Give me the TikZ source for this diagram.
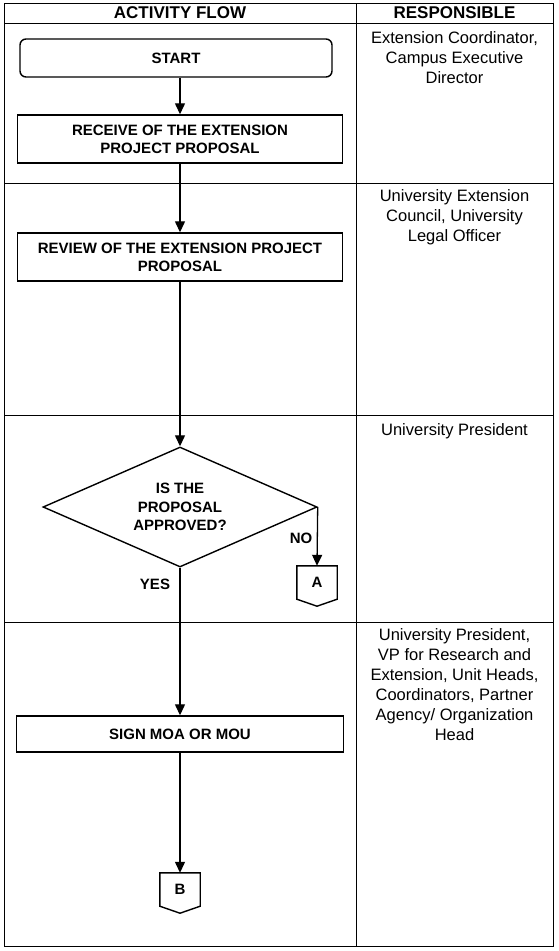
\documentclass[tikz,border=0pt]{standalone}
\usepackage{fontspec}
\setmainfont{Liberation Sans}
\usetikzlibrary{shapes.geometric, arrows.meta, positioning, calc}

\begin{document}
\begin{tikzpicture}[
		x=1pt, y=-1pt,
		block/.style = {draw, line width=1.4pt, rectangle, minimum height=48pt, minimum width=325pt, inner sep=0pt, align=center, font=\fontsize{15}{18}\selectfont\bfseries},
		% Estilo para el inicio
		start_block/.style = {block, rounded corners=6pt, minimum height=38pt, minimum width=312pt},
		decision_block/.style = {draw, line width=1.4pt, diamond, aspect=2.3, minimum width=274pt, minimum height=120pt, inner sep=0pt, align=center, font=\fontsize{15}{18.5}\selectfont\bfseries},
		connector/.style = {minimum width=40pt, minimum height=32pt, inner sep=0pt, font=\fontsize{15}{18}\selectfont\bfseries},
		resp/.style = {anchor=north, inner sep=0pt, align=center, font=\fontsize{16.5}{20}\selectfont},
		head/.style = {inner sep=0pt, font=\fontsize{17}{20}\selectfont\bfseries},
		tag/.style = {inner sep=0pt, font=\fontsize{15}{18}\selectfont\bfseries},
		grid_line/.style = {line width=1pt},
		>={Triangle[length=11pt, width=10pt]}
		]
		
		\useasboundingbox (0,0) rectangle (559,951);
		
		% --- TABLA ---
		\draw [grid_line] (4,3) rectangle (553,946);
		\draw [grid_line] (4,23) -- (553,23);
		\foreach \y in {183, 415, 622}
			\draw [grid_line] (4,\y) -- (553,\y);
		\draw [grid_line] (356,3) -- (356,946);
		
		% --- ENCABEZADOS ---
		\node [head] (h_flow) at (180,13) {ACTIVITY FLOW};
		\node [head] (h_resp) at (454.5,13) {RESPONSIBLE};
		
		% --- FLUJO DE ACTIVIDADES ---
		\node [start_block] (start)   at (176,58)  {START};
		\node [block]       (receive) at (180,139) {RECEIVE OF THE EXTENSION \\ PROJECT PROPOSAL};
		\node [block]       (review)  at (180,257) {REVIEW OF THE EXTENSION PROJECT \\ PROPOSAL};
		\node [decision_block] (decision) at (180,507) {IS THE \\ PROPOSAL \\ APPROVED?};
		\node [block, minimum height=36pt, minimum width=327pt] (sign_moa) at (180,734) {SIGN MOA OR MOU};
		
		% Conectores fuera de página
		\node [connector] (A) at (317,582) {A};
		\node [connector] (B) at (180,889) {B};
		\foreach \c in {A, B}
			\draw [line width=1.4pt] (\c.north west) -- (\c.north east) -- ([yshift=-1pt]\c.south east)
				-- ([yshift=-8pt]\c.south) -- ([yshift=-1pt]\c.south west) -- cycle;
		
		% --- CONEXIONES ---
		\draw [line width=1.3pt, ->] (start.south -| receive.north) -- (receive.north);
		\draw [line width=1.3pt, ->] (receive.south) -- (review.north);
		\draw [line width=1.3pt, ->] (review.south) -- (decision.north);
		\draw [line width=1.3pt, ->] (decision.east) -- (A.north);
		\draw [line width=1.3pt, ->] (decision.south) -- (sign_moa.north);
		\draw [line width=1.3pt, ->] (sign_moa.south) -- (B.north);
		
		\node [tag] (no_lbl)  at (301,538) {NO};
		\node [tag] (yes_lbl) at (155,584) {YES};
		
		% --- RESPONSABLES ---
		\node [resp] (resp_one)   at (454.5,31)  {Extension Coordinator, \\ Campus Executive \\ Director};
		\node [resp] (resp_two)   at (454.5,189) {University Extension \\ Council, University \\ Legal Officer};
		\node [resp] (resp_three) at (454.5,423) {University President};
		\node [resp] (resp_four)  at (454.5,628) {University President, \\ VP for Research and \\ Extension, Unit Heads, \\ Coordinators, Partner \\ Agency/ Organization \\ Head};
		
	\end{tikzpicture}
\end{document}
